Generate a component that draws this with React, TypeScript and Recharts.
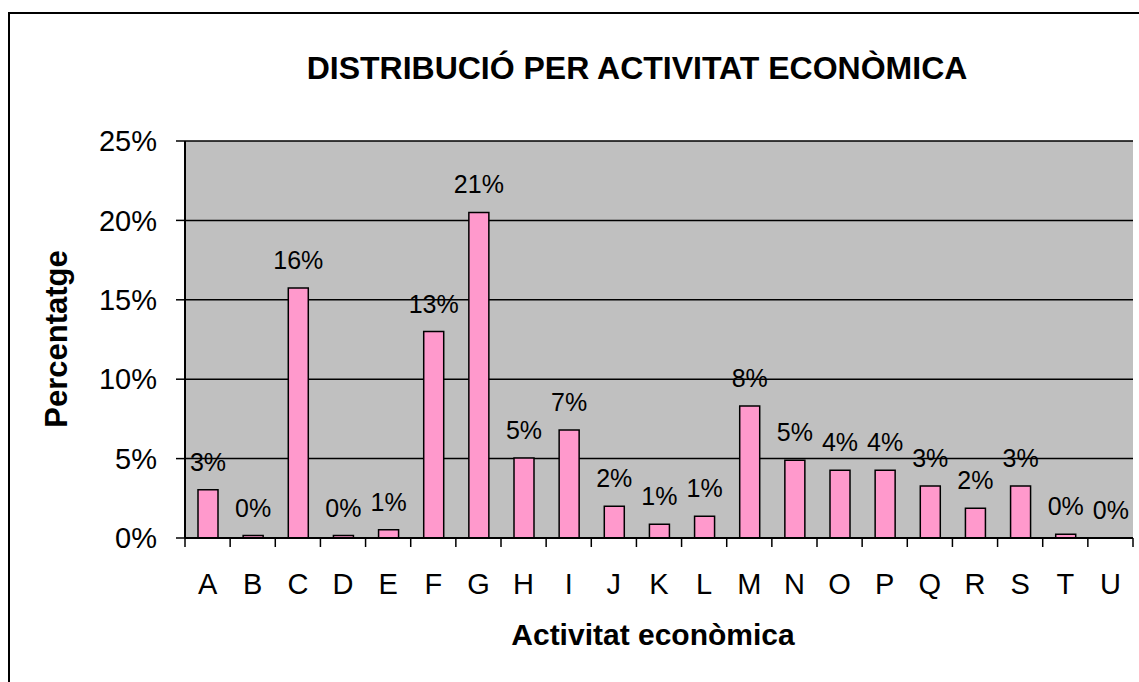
import React from 'react';
import { BarChart, Bar, XAxis, YAxis, CartesianGrid, LabelList } from 'recharts';

const categories = ['A', 'B', 'C', 'D', 'E', 'F', 'G', 'H', 'I', 'J', 'K', 'L', 'M', 'N', 'O', 'P', 'Q', 'R', 'S', 'T', 'U'];
// share of each economic activity, in percent
const percentages = [3.04, 0.15, 15.75, 0.15, 0.52, 13.0, 20.5, 5.03, 6.8, 2.0, 0.87, 1.37, 8.31, 4.9, 4.27, 4.27, 3.27, 1.88, 3.27, 0.24, 0.01];
const yTicks = [0, 0.05, 0.1, 0.15, 0.2, 0.25];

const data = categories.map((cat, i) => ({ cat, value: percentages[i] / 100 }));

const FONT = '"Liberation Sans", Arial, sans-serif';
const W = 1139;
const H = 682;
const PLOT_LEFT = 185;
const PLOT_RIGHT = 1133;
const STEP = (PLOT_RIGHT - PLOT_LEFT) / categories.length;

const pct = (v: number) => `${Math.round(v * 100)}%`;

const XTick = (props: any) => {
  const { x, y, payload, index } = props;
  const last = index === categories.length - 1;
  return (
    <g>
      <line x1={x - STEP / 2} y1={y} x2={x - STEP / 2} y2={y + 9} stroke="#000" strokeWidth={1.5} />
      {last && <line x1={x + STEP / 2} y1={y} x2={x + STEP / 2} y2={y + 9} stroke="#000" strokeWidth={1.5} />}
      <text x={x} y={y + 56} textAnchor="middle" fontSize={29} fontFamily={FONT} fill="#000">
        {payload.value}
      </text>
    </g>
  );
};

export default function App() {
  return (
    <div style={{ position: 'absolute', left: 0, top: 0, width: W, height: H, overflow: 'hidden', background: '#fff', fontFamily: FONT }}>
      <div style={{ position: 'absolute', left: 8, top: 12, width: 1300, height: 900, border: '2px solid #000' }} />
      <div style={{ position: 'absolute', left: 137, top: 49, width: 1000, textAlign: 'center', fontSize: 32, fontWeight: 'bold', lineHeight: '38px' }}>
        DISTRIBUCIÓ PER ACTIVITAT ECONÒMICA
      </div>
      <div style={{ position: 'absolute', left: 57 - 150, top: 339 - 18, width: 300, textAlign: 'center', fontSize: 31, fontWeight: 'bold', lineHeight: '36px', transform: 'rotate(-90deg)' }}>
        Percentatge
      </div>
      <div style={{ position: 'absolute', left: 453, top: 617, width: 400, textAlign: 'center', fontSize: 30, fontWeight: 'bold', lineHeight: '36px' }}>
        Activitat econòmica
      </div>
      <div style={{ position: 'absolute', left: 0, top: 0 }}>
        <BarChart width={W} height={H} data={data} margin={{ top: 141, right: W - PLOT_RIGHT, bottom: 0, left: 0 }}>
          <CartesianGrid fill="#C0C0C0" stroke="#000" strokeWidth={1.5} vertical={false} fillOpacity={1} />
          <XAxis
            dataKey="cat"
            height={144}
            axisLine={{ stroke: '#000', strokeWidth: 2 }}
            tickLine={false}
            tickSize={0}
            tickMargin={0}
            interval={0}
            tick={<XTick />}
          />
          <XAxis xAxisId="top" dataKey="cat" orientation="top" height={0} tick={false} tickLine={false} axisLine={{ stroke: '#808080', strokeWidth: 2 }} />
          <YAxis
            width={PLOT_LEFT}
            domain={[0, 0.25]}
            ticks={yTicks}
            tickFormatter={pct}
            tickSize={9}
            tickMargin={19}
            axisLine={{ stroke: '#000', strokeWidth: 2 }}
            tickLine={{ stroke: '#000', strokeWidth: 1.5 }}
            tick={{ fontSize: 29, fontFamily: FONT, fill: '#000' }}
          />
          <YAxis yAxisId="right" orientation="right" width={0} domain={[0, 0.25]} tick={false} tickLine={false} axisLine={{ stroke: '#808080', strokeWidth: 2 }} />
          <Bar dataKey="value" fill="#FF99CC" stroke="#000" strokeWidth={1.5} barSize={20} isAnimationActive={false}>
            <LabelList dataKey="value" position="top" offset={19} formatter={(v: any) => pct(Number(v))} style={{ fontSize: 25, fontFamily: FONT, fill: '#000' }} />
          </Bar>
        </BarChart>
      </div>
    </div>
  );
}
